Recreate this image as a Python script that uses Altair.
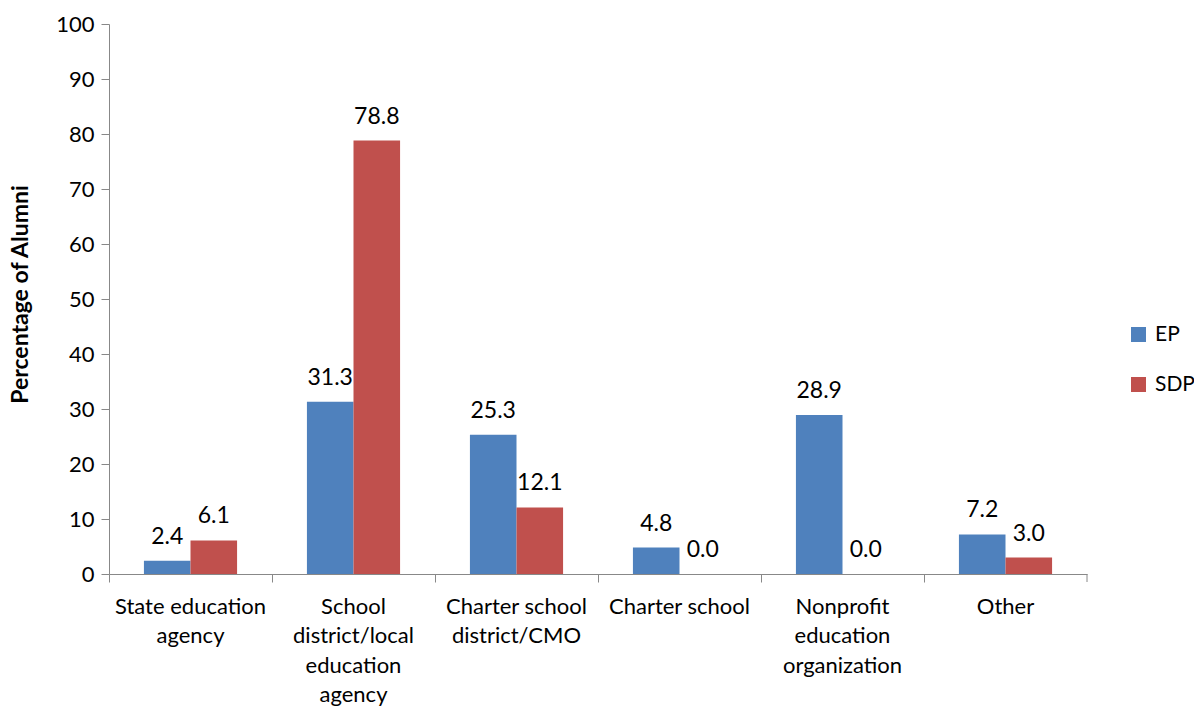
import altair as alt
import pandas as pd
import json

categories = ["State education agency", "School district/local education agency",
              "Charter school district/CMO", "Charter school",
              "Nonprofit education organization", "Other"]
label_lines = [["State education", "agency"], ["School", "district/local", "education", "agency"],
               ["Charter school", "district/CMO"], ["Charter school"],
               ["Nonprofit", "education", "organization"], ["Other"]]
series = ["EP", "SDP"]
ep = [2.4, 31.3, 25.3, 4.8, 28.9, 7.2]
sdp = [6.1, 78.8, 12.1, 0.0, 0.0, 3.0]
colors = ["#4F81BD", "#C0504D"]

rows = []
for c, a, b in zip(categories, ep, sdp):
    rows.append({"cat": c, "series": "EP", "value": a})
    rows.append({"cat": c, "series": "SDP", "value": b})
df = pd.DataFrame(rows)

FONT = "Lato"
W, H = 978, 550

label_expr = f"{json.dumps(label_lines)}[indexof({json.dumps(categories)}, datum.label)]"

xscale = alt.Scale(domain=categories, paddingInner=0, paddingOuter=0)
offscale = alt.Scale(domain=series, paddingInner=0, paddingOuter=0.75)
yscale = alt.Scale(domain=[0, 100])

base = alt.Chart(df)

bars = base.mark_bar().encode(
    x=alt.X("cat:N", scale=xscale, sort=categories, title=None,
            axis=alt.Axis(bandPosition=0, labelExpr=label_expr,
                          labelAngle=0, labelFont=FONT, labelFontSize=22, labelColor="#000",
                          labelPadding=14, labelLineHeight=29.5, labelBaseline="top",
                          tickSize=8, tickColor="#888", domainColor="#888",
                          labelLimit=300)),
    xOffset=alt.XOffset("series:N", scale=offscale, sort=series),
    y=alt.Y("value:Q", scale=yscale, title="Percentage of Alumni",
            axis=alt.Axis(values=list(range(0, 101, 10)), grid=False,
                          labelFont=FONT, labelFontSize=22, labelColor="#000", labelPadding=7,
                          tickSize=8, tickColor="#888", domainColor="#888",
                          titleFont=FONT, titleFontSize=23, titleFontWeight="bold",
                          titleColor="#000", titleAngle=-90, titleX=-89, titleY=270,
                          titleAlign="center", titleBaseline="middle")),
    color=alt.Color("series:N", scale=alt.Scale(domain=series, range=colors), sort=series,
                    legend=alt.Legend(title=None, orient="none", legendX=1019, legendY=300,
                                      symbolType="square", symbolSize=225, symbolStrokeWidth=0,
                                      labelFont=FONT, labelFontSize=21, labelColor="#000",
                                      rowPadding=28, labelOffset=6)),
)

texts = base.mark_text(baseline="bottom", dy=-12, font=FONT, fontSize=23, color="#000").encode(
    x=alt.X("cat:N", scale=xscale, sort=categories),
    xOffset=alt.XOffset("series:N", scale=offscale, sort=series),
    y=alt.Y("value:Q", scale=yscale),
    text=alt.Text("value:Q", format=".1f"),
)

end_tick = alt.Chart(pd.DataFrame({"v": [0]})).mark_rule(color="#888").encode(
    x=alt.value(W), y=alt.value(H), y2=alt.value(H + 8)
)

chart = alt.layer(bars, texts, end_tick).properties(
    width=W, height=H,
    background="white",
    autosize=alt.AutoSizeParams(type="none"),
    padding={"left": 109, "top": 24, "right": 107, "bottom": 132},
).configure_view(strokeWidth=0)

chart.save("out.html", embed_options={"renderer": "svg", "actions": False})
